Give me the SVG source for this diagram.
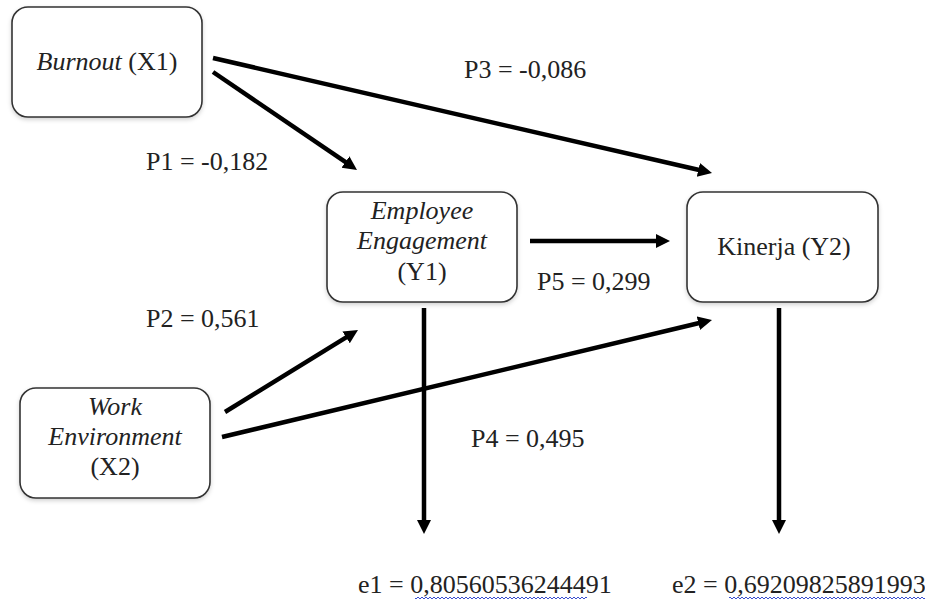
<svg xmlns="http://www.w3.org/2000/svg" width="925" height="601" viewBox="0 0 925 601">
<style>
.box{fill:#fff;stroke:#333;stroke-width:1.6;filter:url(#sh)}
.t{font-family:'Liberation Serif','DejaVu Serif',serif;font-size:26px;fill:#222}
.c{text-anchor:middle}
.i{font-style:italic}
.ln{stroke:#000;stroke-width:4.5;fill:none;marker-end:url(#ah)}
.wv{stroke:#3a4fd0;stroke-width:1;fill:none}
</style>
<defs>
<marker id="ah" markerUnits="userSpaceOnUse" markerWidth="16" markerHeight="16" refX="2" refY="7" orient="auto">
<path d="M0,0 L14,7 L0,14 z" fill="#000"/>
</marker>
<filter id="sh" x="-10%" y="-10%" width="120%" height="130%">
<feDropShadow dx="0" dy="2" stdDeviation="2" flood-color="#000" flood-opacity="0.18"/>
</filter>
<pattern id="wave" width="4" height="4" patternUnits="userSpaceOnUse">
<path d="M0,3 L2,1 L4,3" class="wv"/>
</pattern>
</defs>
<rect width="925" height="601" fill="#fff"/>
<g id="connectors">
<line class="ln" x1="213" y1="58" x2="700.3" y2="170.3"/>
<line class="ln" x1="213" y1="72" x2="347.1" y2="163.2"/>
<line class="ln" x1="530" y1="241" x2="658" y2="241"/>
<line class="ln" x1="225" y1="412" x2="347.8" y2="336.3"/>
<line class="ln" x1="222" y1="437" x2="700.3" y2="322.8"/>
<line class="ln" x1="424" y1="308" x2="424" y2="522"/>
<line class="ln" x1="779" y1="308" x2="779" y2="522"/>
</g>
<g id="x1">
<rect class="box" x="12" y="7" width="190" height="110" rx="16"/>
<text class="t c" x="107" y="70"><tspan class="i">Burnout</tspan> (X1)</text>
</g>
<g id="y1">
<rect class="box" x="327" y="192" width="190" height="110" rx="16"/>
<text class="t c i" x="422" y="219">Employee</text>
<text class="t c i" x="422" y="249">Engagement</text>
<text class="t c" x="422" y="280">(Y1)</text>
</g>
<g id="y2">
<rect class="box" x="687" y="192" width="191" height="110" rx="16"/>
<text class="t c" x="784" y="255">Kinerja (Y2)</text>
</g>
<g id="x2">
<rect class="box" x="20" y="388" width="190" height="110" rx="16"/>
<text class="t c i" x="115" y="415">Work</text>
<text class="t c i" x="115" y="445">Environment</text>
<text class="t c" x="115" y="475">(X2)</text>
</g>
<g id="labels">
<text class="t" x="464" y="78">P3 = -0,086</text>
<text class="t" x="146" y="170">P1 = -0,182</text>
<text class="t" x="146" y="327">P2 = 0,561</text>
<text class="t" x="537" y="290">P5 = 0,299</text>
<text class="t" x="471" y="447">P4 = 0,495</text>
<text class="t" x="358" y="593">e1 = 0,80560536244491</text>
<text class="t" x="672" y="593">e2 = 0,69209825891993</text>
<rect x="415" y="596" width="172" height="4" fill="url(#wave)"/>
<rect x="729" y="596" width="196" height="4" fill="url(#wave)"/>
</g>
</svg>
